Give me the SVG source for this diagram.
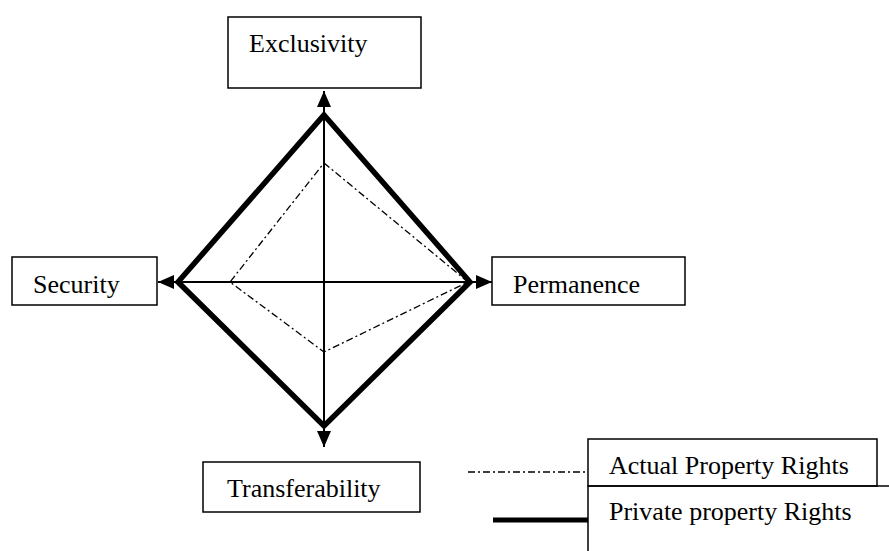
<svg xmlns="http://www.w3.org/2000/svg" width="889" height="551" viewBox="0 0 889 551">
  <defs>
    <marker id="head" viewBox="0 0 16 14" refX="16" refY="7" markerWidth="16" markerHeight="14" markerUnits="userSpaceOnUse" orient="auto">
      <path d="M0,0 L16,7 L0,14 Z" fill="#000"/>
    </marker>
  </defs>
  <style>
    .box { fill: #fff; stroke: #000; stroke-width: 1.5; }
    .label { font-family: "Liberation Serif", "Times New Roman", serif; font-size: 26px; fill: #000; }
    .axis { stroke: #000; stroke-width: 2; fill: none; }
    .private { stroke: #000; stroke-width: 5.5; fill: none; stroke-linejoin: miter; }
    .actual { stroke: #000; stroke-width: 1.3; fill: none; stroke-dasharray: 7 3 2 3; }
  </style>
  <rect width="889" height="551" fill="#fff"/>

  <!-- axes and rights profiles -->
  <g id="connectors">
    <line class="axis" x1="324" y1="282" x2="324" y2="91" marker-end="url(#head)"/>
    <line class="axis" x1="324" y1="282" x2="324" y2="447" marker-end="url(#head)"/>
    <line class="axis" x1="324" y1="282" x2="158" y2="282" marker-end="url(#head)"/>
    <line class="axis" x1="324" y1="282" x2="492" y2="282" marker-end="url(#head)"/>
    <polygon class="actual" points="324,163 468,282 324,352 230,282"/>
    <polygon class="private" points="324,115 470,282 324,426 178,282"/>
  </g>

  <g id="exclusivity">
    <rect class="box" x="228" y="17" width="193" height="71"/>
    <text class="label" x="249" y="52">Exclusivity</text>
  </g>
  <g id="security">
    <rect class="box" x="12" y="257" width="145" height="48"/>
    <text class="label" x="33" y="293">Security</text>
  </g>
  <g id="permanence">
    <rect class="box" x="492" y="257" width="193" height="48"/>
    <text class="label" x="513" y="293">Permanence</text>
  </g>
  <g id="transferability">
    <rect class="box" x="203" y="462" width="217" height="50"/>
    <text class="label" x="227" y="497">Transferability</text>
  </g>

  <!-- legend -->
  <g id="legend">
    <line class="actual" x1="468" y1="472" x2="588" y2="472"/>
    <line stroke="#000" stroke-width="5" x1="493" y1="520" x2="588" y2="520"/>
    <rect class="box" x="588" y="439" width="289" height="47"/>
    <text class="label" x="609" y="474">Actual Property Rights</text>
    <path d="M889,486 H588 V551" fill="none" stroke="#000" stroke-width="1.5"/>
    <text class="label" x="609" y="520">Private property Rights</text>
  </g>
</svg>
